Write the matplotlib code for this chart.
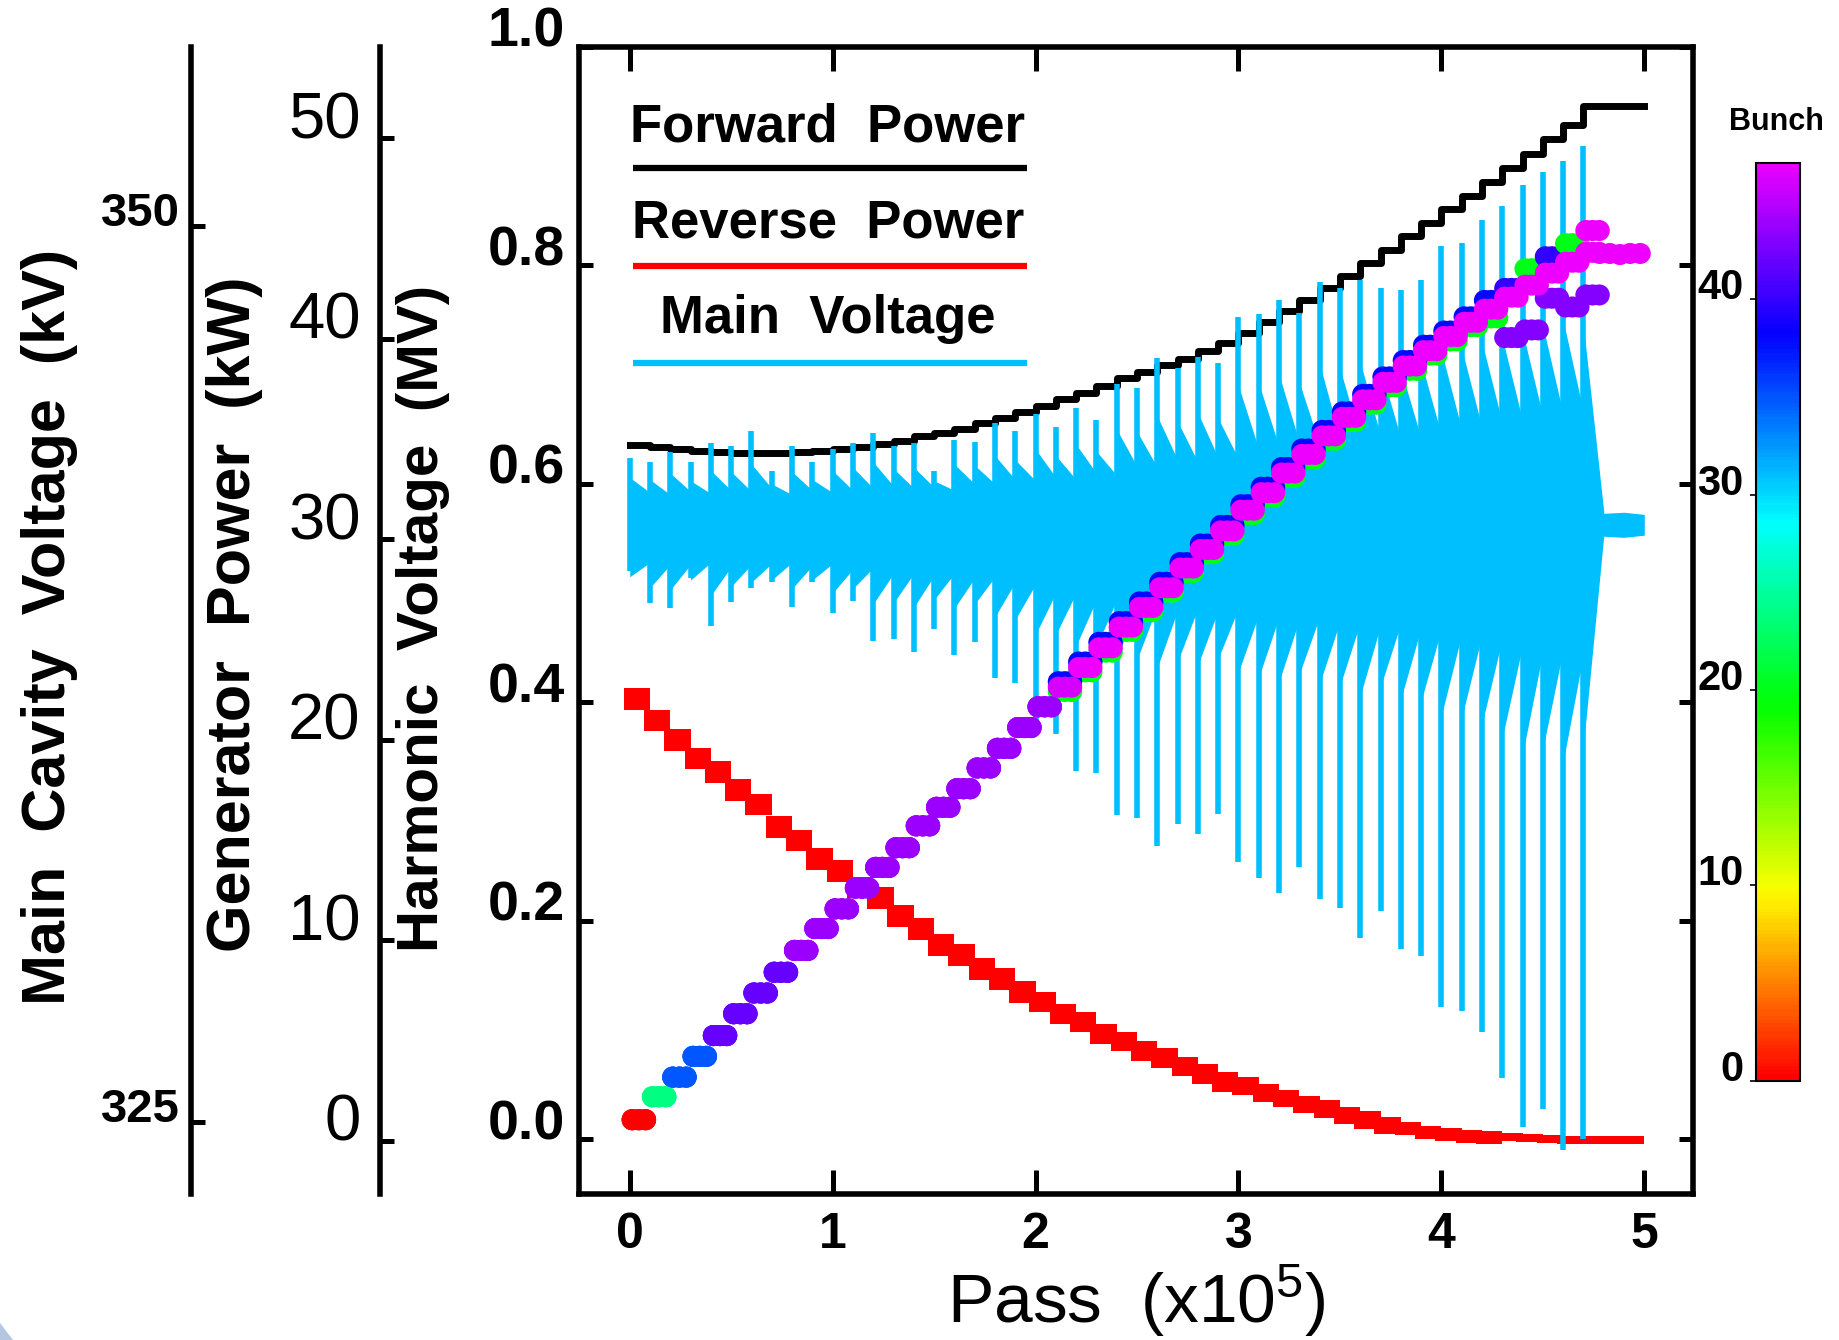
import numpy as np
import matplotlib
matplotlib.use("Agg")
import matplotlib.pyplot as plt
from matplotlib.colors import ListedColormap
from matplotlib.patches import Polygon

plt.rcParams["font.family"] = ["Liberation Sans", "DejaVu Sans"]
plt.rcParams["mathtext.fontset"] = "custom"
plt.rcParams["mathtext.rm"] = "Liberation Sans"
plt.rcParams["mathtext.default"] = "regular"

# ---------------------------------------------------------------- data
# start of each voltage-ramp step, in units of 1e5 passes
step_pass = np.round(np.arange(48) * 0.1, 1)
step_end = 4.8
last_pass = 5.0

# generator forward power per step (kW)
fwd_kw = [34.70, 34.59, 34.48, 34.42, 34.37, 34.31, 34.31, 34.31, 34.37, 34.42,
          34.48, 34.59, 34.75, 34.91, 35.13, 35.30, 35.51, 35.79, 36.06, 36.33,
          36.66, 36.98, 37.31, 37.64, 38.02, 38.35, 38.67, 39.00, 39.38, 39.81,
          40.31, 40.85, 41.39, 41.94, 42.54, 43.14, 43.79, 44.44, 45.10, 45.75,
          46.46, 47.11, 47.82, 48.53, 49.23, 49.94, 50.65, 51.63]

# reverse power band per step (kW): upper and lower edge
rev_hi_kw = [22.60, 21.51, 20.53, 19.61, 18.95, 18.03, 17.32, 16.18, 15.52, 14.60,
             14.00, 13.18, 12.64, 11.77, 11.11, 10.30, 9.80, 9.10, 8.61, 7.95,
             7.41, 6.81, 6.43, 5.83, 5.45, 4.96, 4.63, 4.20, 3.81, 3.43,
             3.16, 2.83, 2.56, 2.24, 2.02, 1.69, 1.47, 1.20, 0.93, 0.76,
             0.66, 0.55, 0.49, 0.38, 0.33, 0.27, 0.22, 0.22]
rev_lo_kw = [21.51, 20.42, 19.44, 18.52, 17.86, 16.94, 16.23, 15.09, 14.43, 13.51,
             12.91, 12.09, 11.55, 10.68, 10.02, 9.21, 8.71, 8.01, 7.52, 6.86,
             6.43, 5.83, 5.45, 4.85, 4.47, 3.98, 3.65, 3.22, 2.83, 2.45,
             2.29, 1.96, 1.69, 1.37, 1.15, 0.82, 0.60, 0.33, 0.28, 0.11,
             0.01, -0.10, -0.16, 0.00, -0.05, -0.11, -0.16, -0.16]

# main cavity voltage (kV): transient extremes at each step
mainv_spike_hi_kv = [343.54, 343.42, 343.69, 343.42, 343.94, 343.88, 344.30, 343.18, 343.88, 343.42,
                     343.78, 343.94, 344.24, 343.88, 343.94, 343.18, 344.03, 343.97, 344.52, 344.30,
                     344.76, 344.39, 344.94, 344.58, 345.61, 345.49, 346.31, 346.04, 346.34, 346.19,
                     347.47, 347.56, 347.93, 347.59, 348.44, 348.29, 348.50, 348.29, 348.23, 348.50,
                     349.45, 349.54, 350.18, 350.57, 351.15, 351.52, 351.82, 352.25]
mainv_spike_lo_kv = [340.37, 339.49, 339.34, 340.19, 338.85, 339.52, 339.92, 340.07, 339.37, 340.07,
                     339.22, 339.55, 338.43, 338.49, 338.12, 338.76, 338.03, 338.40, 337.39, 337.27,
                     335.84, 335.84, 334.80, 334.74, 333.58, 333.49, 332.70, 333.31, 333.04, 333.61,
                     332.27, 331.82, 331.39, 332.12, 331.24, 330.99, 330.14, 330.90, 329.84, 329.63,
                     328.22, 328.10, 327.52, 326.25, 324.87, 325.36, 324.24, 324.54]
# oscillation envelope right after each step and at the end of the step (kV)
mainv_hi_start_kv = [342.99, 342.93, 343.11, 342.90, 343.18, 343.15, 343.36, 342.81, 343.15, 342.93,
                     343.18, 343.27, 343.42, 343.24, 343.27, 342.90, 343.36, 343.33, 343.60, 343.48,
                     343.78, 343.60, 343.91, 343.72, 344.33, 344.27, 344.70, 344.55, 344.79, 344.64,
                     345.55, 345.61, 345.86, 345.64, 346.16, 346.04, 346.22, 346.04, 346.01, 346.22,
                     346.52, 346.59, 346.77, 346.89, 347.07, 347.23, 347.38, 347.23]
mainv_hi_end_kv = [342.57, 342.51, 342.60, 342.54, 342.63, 342.60, 342.69, 342.51, 342.63, 342.57,
                   342.63, 342.69, 342.75, 342.69, 342.72, 342.63, 342.81, 342.81, 342.93, 342.90,
                   342.99, 342.93, 343.11, 343.05, 343.30, 343.27, 343.48, 343.42, 343.54, 343.51,
                   343.78, 343.85, 343.97, 343.91, 344.09, 344.06, 344.15, 344.09, 344.09, 344.18,
                   344.33, 344.39, 344.52, 344.58, 344.70, 344.76, 344.82, 342.05]
mainv_lo_start_kv = [340.22, 339.92, 339.86, 340.13, 339.70, 339.95, 340.07, 340.13, 339.89, 340.13,
                     339.77, 339.89, 339.46, 339.49, 339.37, 339.58, 339.34, 339.46, 339.10, 339.03,
                     338.61, 338.61, 338.30, 338.27, 337.94, 337.91, 337.69, 337.85, 337.76, 337.94,
                     337.57, 337.42, 337.30, 337.51, 337.24, 337.18, 336.90, 337.15, 336.81, 336.75,
                     336.35, 336.29, 336.11, 335.72, 335.26, 335.41, 335.05, 335.50]
mainv_lo_end_kv = [340.62, 340.56, 340.56, 340.62, 340.50, 340.56, 340.59, 340.62, 340.53, 340.59,
                   340.43, 340.47, 340.31, 340.31, 340.25, 340.31, 340.19, 340.22, 340.07, 340.01,
                   339.77, 339.77, 339.58, 339.58, 339.40, 339.40, 339.28, 339.34, 339.28, 339.34,
                   339.16, 339.10, 339.03, 339.10, 338.97, 338.94, 338.85, 338.91, 338.79, 338.76,
                   338.61, 338.58, 338.49, 338.30, 338.12, 338.18, 338.06, 341.35]
mainv_tail_pass = [4.8, 4.9, 5.0]
mainv_tail_hi_kv = [341.99, 342.02, 341.96]
mainv_tail_lo_kv = [341.35, 341.32, 341.38]

# harmonic cavity voltage per step (MV): leading bunch, highest and lowest bunch
harm_mv = [0.018, 0.039, 0.057, 0.076, 0.095, 0.115, 0.134, 0.153, 0.173, 0.193,
           0.211, 0.230, 0.249, 0.267, 0.287, 0.304, 0.321, 0.340, 0.358, 0.377,
           0.396, 0.414, 0.432, 0.450, 0.469, 0.487, 0.505, 0.523, 0.540, 0.557,
           0.576, 0.592, 0.610, 0.627, 0.644, 0.661, 0.677, 0.693, 0.708, 0.722,
           0.735, 0.748, 0.760, 0.771, 0.782, 0.793, 0.803, 0.812]
harm_hi_mv = [0.018, 0.039, 0.057, 0.076, 0.095, 0.115, 0.134, 0.153, 0.173, 0.193,
              0.211, 0.230, 0.249, 0.267, 0.287, 0.304, 0.321, 0.340, 0.358, 0.377,
              0.396, 0.419, 0.437, 0.455, 0.474, 0.492, 0.510, 0.528, 0.545, 0.562,
              0.581, 0.597, 0.615, 0.632, 0.649, 0.666, 0.682, 0.698, 0.713, 0.727,
              0.740, 0.753, 0.768, 0.779, 0.797, 0.808, 0.820, 0.832]
harm_lo_mv = [0.018, 0.039, 0.057, 0.076, 0.095, 0.115, 0.134, 0.153, 0.173, 0.193,
              0.211, 0.230, 0.249, 0.267, 0.287, 0.304, 0.321, 0.340, 0.358, 0.377,
              0.396, 0.410, 0.428, 0.446, 0.465, 0.483, 0.501, 0.519, 0.536, 0.553,
              0.572, 0.588, 0.606, 0.623, 0.640, 0.657, 0.673, 0.689, 0.704, 0.718,
              0.731, 0.744, 0.752, 0.734, 0.741, 0.770, 0.762, 0.773]
bunch_top = [0, 24, 35, 35, 42, 42, 42, 42, 44, 44,
             44, 44, 44, 44, 44, 44, 44, 44, 44, 44,
             44, 46, 47, 47, 47, 47, 47, 47, 47, 47,
             47, 47, 47, 47, 47, 47, 47, 47, 47, 47,
             47, 47, 47, 47, 47, 47, 47, 47]
bunch_hi = bunch_top[:21] + [38] * 22 + [40, 20, 40, 20, 47]
bunch_lo = bunch_top[:21] + [20] * 22 + [43, 43, 43, 43, 43]
harm_tail_pass = [4.78, 4.83, 4.88, 4.93, 4.98]
harm_tail_mv = [0.811, 0.811, 0.810, 0.811, 0.811]
harm_tail_bunch = [47, 47, 47, 47, 47]
# passes sampled inside each step (x1e5, relative to step start)
sample_offsets = [0.012, 0.045, 0.078]

# ---------------------------------------------------------------- style
CYAN = "#00BFFF"
RED = "#FF0000"
cmap = ListedColormap(plt.cm.hsv(np.linspace(0.0, 300 / 360, 256)))

fig = plt.figure(figsize=(18.39, 13.40), dpi=100)
fig.patch.set_facecolor("white")
rect = [0.31485, 0.10896, 0.60576, 0.85597]

ax_kw = fig.add_axes(rect, label="power")
ax_kv = fig.add_axes(rect, label="main", sharex=ax_kw)
ax = fig.add_axes(rect, label="harmonic", sharex=ax_kw)
ax_kw.set_zorder(1)
ax_kv.set_zorder(2)
ax.set_zorder(3)
ax_kv.patch.set_visible(False)
ax.patch.set_visible(False)

ax.set_xlim(-0.25, 5.24)
ax.set_ylim(-0.05, 1.0)
ax_kw.set_ylim(-2.65, 54.55)
ax_kv.set_ylim(323.0, 355.0)

# ---- generator power axis (kW)
# each reverse-power step is a block that starts slightly before the step
lead = 0.03
block_left = step_pass - lead
block_right = np.append(step_pass[1:], last_pass)
rev_hi = np.array(rev_hi_kw)
rev_lo = np.array(rev_lo_kw)
ax_kw.bar(block_left, rev_hi - rev_lo, bottom=rev_lo, width=block_right - block_left,
          align="edge", color=RED, lw=0)
x_pw = list(step_pass) + [last_pass]
ax_kw.step(x_pw, fwd_kw + [fwd_kw[-1]], where="post", color="black", lw=5)

# ---- main cavity voltage axis (kV)
xs, hi, lo = [], [], []
for k, x0 in enumerate(step_pass):
    x1 = step_pass[k + 1] if k + 1 < len(step_pass) else step_end
    xs += [x0, x1]
    hi += [mainv_hi_start_kv[k], mainv_hi_end_kv[k]]
    lo += [mainv_lo_start_kv[k], mainv_lo_end_kv[k]]
xs += mainv_tail_pass
hi += mainv_tail_hi_kv
lo += mainv_tail_lo_kv
ax_kv.fill_between(xs, lo, hi, color=CYAN, lw=0)
ax_kv.vlines(step_pass, mainv_spike_lo_kv, mainv_spike_hi_kv, color=CYAN, lw=4)

# ---- harmonic voltage (MV), coloured by bunch
offs = np.array(sample_offsets)
xb = (step_pass[:, None] + offs[None, :]).ravel()
n = len(offs)
sc = None
for vals, bunches in [(harm_lo_mv, bunch_lo), (harm_hi_mv, bunch_hi), (harm_mv, bunch_top)]:
    sc = ax.scatter(xb, np.repeat(vals, n), c=np.repeat(bunches, n), cmap=cmap,
                    vmin=0, vmax=47, s=230, lw=0)
ax.scatter(harm_tail_pass, harm_tail_mv, c=harm_tail_bunch, cmap=cmap,
           vmin=0, vmax=47, s=230, lw=0)

# ---- legend drawn inside the frame
leg = [("Forward  Power", "black", 0.9174, 0.8945),
       ("Reverse  Power", RED, 0.8343, 0.8093),
       ("Main  Voltage", CYAN, 0.7507, 0.7248)]
for txt, col, ty, ly in leg:
    ax.text(0.2235, ty, txt, transform=ax.transAxes, ha="center", va="baseline",
            fontsize=38, fontweight="bold")
    ax.plot([0.0485, 0.4022], [ly, ly], transform=ax.transAxes, color=col,
            lw=4.5, solid_capstyle="butt")

# ---- axes decoration
for a in (ax_kw, ax_kv):
    a.xaxis.set_visible(False)
    for s in ("top", "right", "bottom"):
        a.spines[s].set_visible(False)
    a.spines["left"].set_linewidth(4)
ax_kw.spines["left"].set_position(("axes", -0.1786))
ax_kv.spines["left"].set_position(("axes", -0.3483))

for s in ax.spines.values():
    s.set_linewidth(4)

ax.set_xticks(range(6))
ax.set_xticklabels([str(i) for i in range(6)], fontsize=36, fontweight="bold")
ax.tick_params(axis="x", direction="in", length=17, width=3.6, top=True, bottom=True, pad=13)
yt = [0.0, 0.2, 0.4, 0.6, 0.8, 1.0]
ax.set_yticks(yt)
ax.set_yticklabels([f"{v:.1f}" for v in yt], fontsize=40, fontweight="bold", va="baseline")
ax.tick_params(axis="y", direction="in", length=10, width=3.6, left=True, right=True, pad=10)

ax_kw.set_yticks([0, 10, 20, 30, 40, 50])
ax_kw.set_yticklabels(["0", "10", "20", "30", "40", "50"], fontsize=47, va="baseline")
ax_kw.tick_params(axis="y", direction="in", length=10, width=3.6, pad=14)

ax_kv.set_yticks([325, 350])
ax_kv.set_yticklabels(["325", "350"], fontsize=34, fontweight="bold", va="baseline")
ax_kv.tick_params(axis="y", direction="in", length=10, width=3.6, pad=8)

ax.set_xlabel("Pass  (x10$^{5}$)", fontsize=50)
ax.xaxis.set_label_coords(0.5, -0.1125)
ax.xaxis.label.set_va("baseline")

fig.text(0.0267, 0.532, "Main  Cavity  Voltage  (kV)", rotation=90, ha="center",
         va="center", fontsize=44, fontweight="bold")
fig.text(0.1276, 0.5414, "Generator  Power  (kW)", rotation=90, ha="center",
         va="center", fontsize=44, fontweight="bold")
fig.text(0.2302, 0.5388, "Harmonic  Voltage  (MV)", rotation=90, ha="center",
         va="center", fontsize=42, fontweight="bold")

# ---- bunch colour bar
cax = fig.add_axes([0.9549, 0.1935, 0.0239, 0.6851])
cb = fig.colorbar(sc, cax=cax)
cb.set_ticks([0, 10, 20, 30, 40])
cax.yaxis.set_ticks_position("left")
cax.yaxis.set_label_position("left")
cax.set_yticklabels(["0", "10", "20", "30", "40"], fontsize=30, fontweight="bold", va="baseline")
cax.tick_params(axis="y", length=4, width=1.2, pad=5)
cb.outline.set_linewidth(1.5)
fig.text(0.966, 0.903, "Bunch", ha="center", va="baseline", fontsize=22, fontweight="bold")

# faint slide-background corner
fig.patches.append(Polygon([(0, 0), (0, 0.0127), (0.0071, 0)], closed=True,
                           transform=fig.transFigure, facecolor="#B4C6E0",
                           edgecolor="none", zorder=-1))

fig.savefig("out.png", dpi=100, facecolor="white")
